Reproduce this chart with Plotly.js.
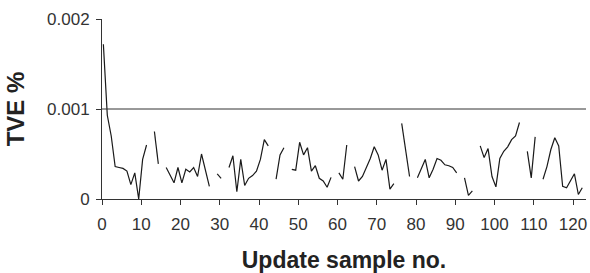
<!DOCTYPE html>
<html>
<head>
<meta charset="utf-8">
<script src="https://cdn.plot.ly/plotly-3.0.1.min.js"></script>
<style>html,body{margin:0;padding:0;background:#fff;}#chart{width:590px;height:273px;}</style>
</head>
<body>
<div id="chart"></div>
<script>
// TVE values (in units of 0.001 %), null = gap (no update)
const tveMilli = [
  1.72, 0.93, 0.70, 0.36, 0.35, 0.34, 0.31, 0.16, 0.29, 0.00, 0.44, 0.60,
  null, 0.75, 0.39, null,
  0.35, 0.26, 0.18, 0.35, 0.18, 0.33, 0.30, 0.35, 0.25, 0.50, 0.32, 0.14,
  null, 0.28, 0.23, null,
  0.35, 0.48, 0.08, 0.44, 0.15, 0.23, 0.26, 0.31, 0.44, 0.66, 0.59,
  null, 0.22, 0.49, 0.57, null,
  0.33, 0.32, 0.63, 0.49, 0.57, 0.31, 0.37, 0.23, 0.20, 0.13, 0.24,
  null, 0.29, 0.22, 0.60, null,
  0.36, 0.20, 0.25, 0.35, 0.45, 0.58, 0.49, 0.32, 0.44, 0.11, 0.17,
  null, 0.84, 0.55, 0.25, null,
  0.235, 0.34, 0.44, 0.235, 0.33, 0.45, 0.43, 0.38, 0.37, 0.35, 0.29,
  null, 0.235, 0.04, 0.09, null,
  0.59, 0.46, 0.56, 0.25, 0.135, 0.45, 0.53, 0.58, 0.66, 0.70, 0.85,
  null, 0.53, 0.235, 0.69, null,
  0.22, 0.36, 0.55, 0.68, 0.59, 0.14, 0.125, 0.20, 0.28, 0.05, 0.125
];
const sampleOffset = 0.35;
const threshold = 0.001;
const xTickVals = [0,10,20,30,40,50,60,70,80,90,100,110,120];
const xTickText = ['0','10','20','30','40','50','60','70','80','90','100','110','120'];
const yTickVals = [0, 0.001, 0.002];
const yTickText = ['0','0.001','0.002'];

const xs = tveMilli.map((v,i)=>i+sampleOffset);
const ys = tveMilli.map(v=> v===null ? null : v/1000);

const FONT = 'Liberation Sans, Arial, Helvetica, sans-serif';

Plotly.newPlot('chart', [{
  x: xs, y: ys, type: 'scatter', mode: 'lines',
  line: {color: '#1a1a1a', width: 1.2}, connectgaps: false, hoverinfo: 'none'
}], {
  width: 590, height: 273,
  margin: {l: 102, r: 4, t: 19, b: 74},
  paper_bgcolor: '#fff', plot_bgcolor: '#fff',
  showlegend: false,
  font: {family: FONT, color: '#222'},
  xaxis: {
    range: [0, 123.3], tickvals: xTickVals, ticktext: xTickText,
    showgrid: false, zeroline: false, showline: true, linecolor: '#333', linewidth: 1,
    ticks: 'outside', ticklen: 5, tickcolor: '#333', tickwidth: 1,
    ticklabelstandoff: 5,
    tickfont: {size: 17, family: FONT, color: '#333'},
    title: {text: 'Update sample no.', font: {size: 23, family: FONT, color: '#222', weight: 'bold'}, standoff: 20}
  },
  yaxis: {
    range: [0, 0.002], tickvals: yTickVals, ticktext: yTickText,
    showgrid: false, zeroline: false, showline: true, linecolor: '#333', linewidth: 1,
    ticks: 'outside', ticklen: 5, tickcolor: '#333', tickwidth: 1,
    ticklabelstandoff: 3,
    tickfont: {size: 17, family: FONT, color: '#333'},
    title: {text: 'TVE %', font: {size: 24, family: FONT, color: '#222', weight: 'bold'}, standoff: 15}
  },
  shapes: [{type: 'line', xref: 'paper', x0: 0, x1: 1, yref: 'y', y0: threshold, y1: threshold,
            line: {color: '#333', width: 1}}]
}, {staticPlot: true});
</script>
</body>
</html>
